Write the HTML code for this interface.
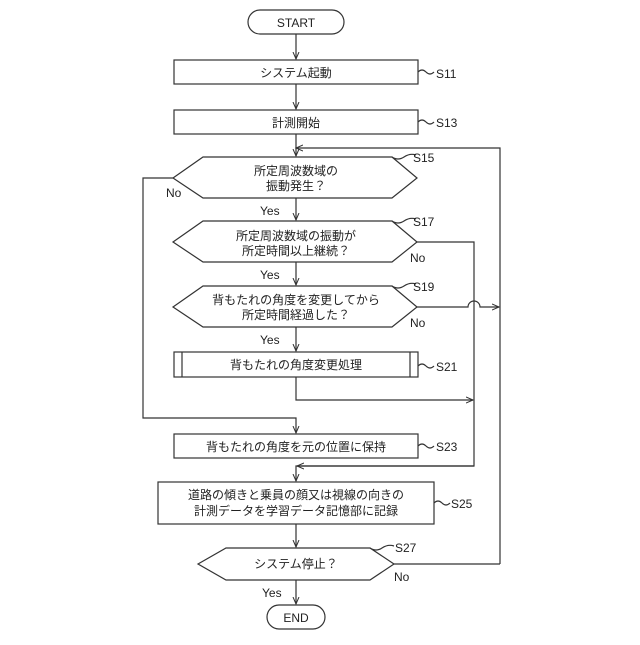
<!DOCTYPE html>
<html><head><meta charset="utf-8"><style>
html,body{margin:0;padding:0;background:#fff}
svg text{font-family:"Liberation Sans","Noto Sans CJK JP",sans-serif;font-size:12px;fill:#222}
</style></head><body>
<svg width="640" height="640" viewBox="0 0 640 640" xmlns="http://www.w3.org/2000/svg">
<defs><marker id="a" markerWidth="8" markerHeight="8" refX="7" refY="4" orient="auto" markerUnits="userSpaceOnUse"><path d="M0,1 L7,4 L0,7" fill="none" stroke="#333" stroke-width="1"/></marker></defs>
<g fill="none" stroke="#333" stroke-width="1.2">
<rect x="248" y="10" width="96" height="24" rx="12"/>
<line x1="296" y1="34" x2="296" y2="59" marker-end="url(#a)"/>
<rect x="174" y="60" width="244" height="24"/>
<line x1="296" y1="84" x2="296" y2="109" marker-end="url(#a)"/>
<rect x="174" y="110" width="244" height="24"/>
<line x1="296" y1="134" x2="296" y2="156" marker-end="url(#a)"/>
<polyline points="500,564 500,148 296,148" marker-end="url(#a)"/>
<polygon points="173,178 203,157 392,157 417,178 392,198 203,198"/>
<polyline points="173,178 143,178 143,418 296,418 296,433" marker-end="url(#a)"/>
<line x1="296" y1="198" x2="296" y2="220" marker-end="url(#a)"/>
<polygon points="173,242 203,221 392,221 417,242 392,262 203,262"/>
<polyline points="417,242 474,242 474,466 296,466 296,481" marker-end="url(#a)"/>
<line x1="296" y1="262" x2="296" y2="285" marker-end="url(#a)"/>
<polygon points="173,307 203,286 392,286 417,307 392,327 203,327"/>
<path d="M417,307 L468,307 A6,6 0 0 1 480,307 L499,307" marker-end="url(#a)"/>
<line x1="296" y1="327" x2="296" y2="351" marker-end="url(#a)"/>
<rect x="174" y="352" width="244" height="25"/>
<line x1="182" y1="352" x2="182" y2="377"/><line x1="410" y1="352" x2="410" y2="377"/>
<polyline points="296,377 296,400 473,400" marker-end="url(#a)"/>
<rect x="174" y="434" width="244" height="24"/>
<line x1="474" y1="466" x2="297" y2="466" marker-end="url(#a)"/>
<rect x="158" y="482" width="276" height="42"/>
<line x1="296" y1="524" x2="296" y2="547" marker-end="url(#a)"/>
<polygon points="198,564 226,548 370,548 394,564 370,580 226,580"/>
<line x1="394" y1="564" x2="500" y2="564"/>
<line x1="296" y1="580" x2="296" y2="604" marker-end="url(#a)"/>
<rect x="267" y="605" width="58" height="24" rx="12"/>
<path d="M418,72 q4,-4 8,0 t8,0"/><path d="M418,122 q4,-4 8,0 t8,0"/>
<path d="M392,157 q6,4 12,0 t12,-2"/><path d="M392,221 q6,4 12,0 t12,-2"/>
<path d="M392,286 q6,4 12,0 t12,-2"/><path d="M418,366 q4,-4 8,0 t8,0"/>
<path d="M418,446 q4,-4 8,0 t8,0"/><path d="M434,503 q4,-4 8,0 t8,0"/>
<path d="M370,548 q6,4 12,0 t12,-2"/>
</g>
<g text-anchor="middle">
<text x="296" y="27">START</text>
<text x="296" y="77">システム起動</text>
<text x="296" y="127">計測開始</text>
<text x="296" y="175">所定周波数域の</text><text x="296" y="190">振動発生？</text>
<text x="296" y="240">所定周波数域の振動が</text><text x="296" y="255">所定時間以上継続？</text>
<text x="296" y="304">背もたれの角度を変更してから</text><text x="296" y="319">所定時間経過した？</text>
<text x="296" y="369">背もたれの角度変更処理</text>
<text x="296" y="451">背もたれの角度を元の位置に保持</text>
<text x="296" y="499">道路の傾きと乗員の顔又は視線の向きの</text><text x="296" y="515">計測データを学習データ記憶部に記録</text>
<text x="296" y="568">システム停止？</text>
<text x="296" y="622">END</text>
</g>
<g>
<text x="436" y="78">S11</text><text x="436" y="127">S13</text>
<text x="413" y="162">S15</text><text x="413" y="226">S17</text><text x="413" y="291">S19</text>
<text x="436" y="371">S21</text><text x="436" y="451">S23</text><text x="451" y="508">S25</text>
<text x="395" y="552">S27</text>
<text x="166" y="197">No</text><text x="410" y="262">No</text><text x="410" y="327">No</text><text x="394" y="581">No</text>
<text x="260" y="215">Yes</text><text x="260" y="279">Yes</text><text x="260" y="344">Yes</text><text x="262" y="597">Yes</text>
</g>
</svg>
</body></html>
